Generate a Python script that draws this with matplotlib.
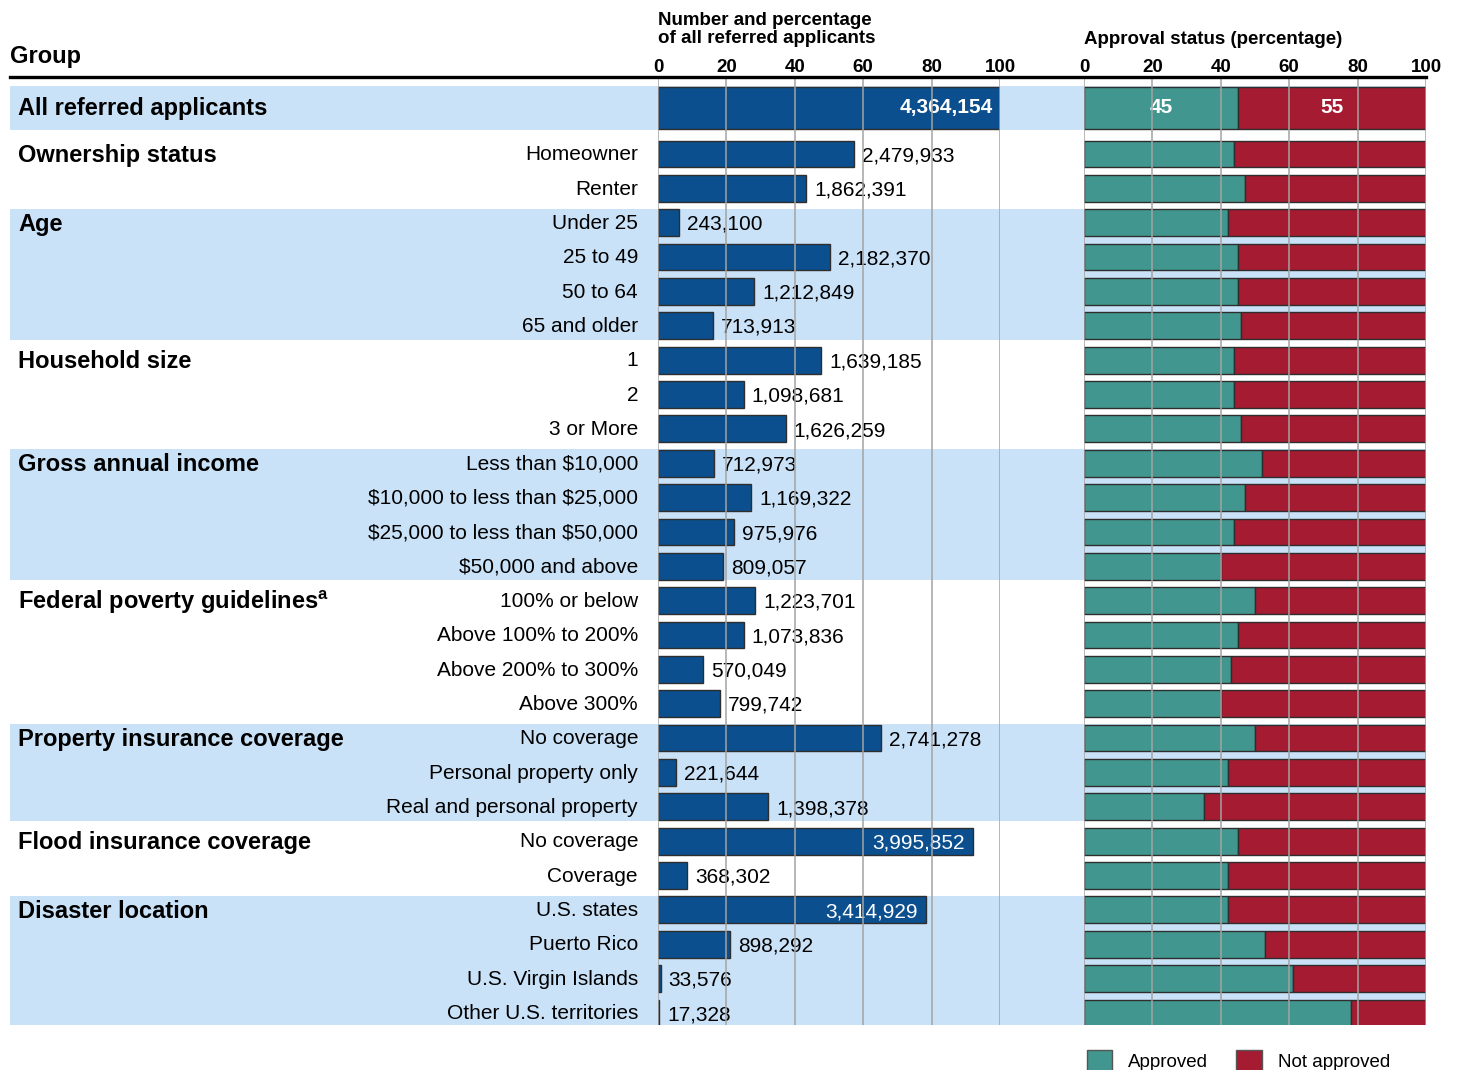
import matplotlib
matplotlib.use("Agg")
import matplotlib.pyplot as plt
import matplotlib.transforms as mtransforms
from matplotlib.lines import Line2D
from matplotlib.patches import Patch

plt.rcParams['font.family'] = ['Liberation Sans', 'DejaVu Sans']
plt.rcParams['mathtext.fontset'] = 'custom'
plt.rcParams['mathtext.bf'] = 'Liberation Sans:bold'

# ---- data ----
total_label = "All referred applicants"
total_count = 4364154
total_share = 100
total_approved = 45

groups = ["Ownership status", "Age", "Household size", "Gross annual income",
          "Federal poverty guidelines$^{\\mathbf{a}}$", "Property insurance coverage",
          "Flood insurance coverage", "Disaster location"]
group_sizes = [2, 4, 3, 4, 4, 3, 2, 4]

categories = ["Homeowner", "Renter",
              "Under 25", "25 to 49", "50 to 64", "65 and older",
              "1", "2", "3 or More",
              "Less than \\$10,000", "\\$10,000 to less than \\$25,000",
              "\\$25,000 to less than \\$50,000", "\\$50,000 and above",
              "100% or below", "Above 100% to 200%", "Above 200% to 300%", "Above 300%",
              "No coverage", "Personal property only", "Real and personal property",
              "No coverage", "Coverage",
              "U.S. states", "Puerto Rico", "U.S. Virgin Islands", "Other U.S. territories"]

counts = [2479933, 1862391,
          243100, 2182370, 1212849, 713913,
          1639185, 1098681, 1626259,
          712973, 1169322, 975976, 809057,
          1223701, 1073836, 570049, 799742,
          2741278, 221644, 1398378,
          3995852, 368302,
          3414929, 898292, 33576, 17328]

# percentage of all referred applicants (bar lengths)
shares = [57.3, 43.3,
          6.1, 50.3, 28.1, 16.1,
          47.7, 25.1, 37.4,
          16.4, 27.2, 22.2, 19.0,
          28.4, 25.1, 13.2, 18.1,
          65.2, 5.3, 32.2,
          92.1, 8.5,
          78.4, 21.1, 0.8, 0.4]

# percent approved
approved = [44, 47,
            42, 45, 45, 46,
            44, 44, 46,
            52, 47, 44, 40,
            50, 45, 43, 40,
            50, 42, 35,
            45, 42,
            42, 53, 61, 78]

ticks = [0, 20, 40, 60, 80, 100]

BLUE = '#0b4f8f'
TEAL = '#41978f'
RED = '#a51b31'
BAND = '#cae2f8'
EDGE = '#2e2e2e'
GRID = '#a3a3a3'

W, H = 1460, 1070
fig = plt.figure(figsize=(W / 100, H / 100), dpi=100)


def box(x0, x1, y0=77, y1=1025):
    return [x0 / W, 1 - y1 / H, (x1 - x0) / W, (y1 - y0) / H]


ylim = (25.35, -2.24)
rows = list(range(len(categories)))
total_y = -1.34
bar_h = 0.78

ax_bg = fig.add_axes(box(10, 1426))
ax_bg.set_xlim(0, 1)
ax_bg.set_ylim(*ylim)
ax_bg.axis('off')

# shaded bands
ax_bg.axhspan(total_y - 0.63, total_y + 0.63, color=BAND, lw=0)
start = 0
for gi, n in enumerate(group_sizes):
    if gi % 2 == 1:
        ax_bg.axhspan(start - 0.41, start + n - 1 + 0.41, color=BAND, lw=0)
    start += n

# row labels
tr = mtransforms.blended_transform_factory(fig.transFigure, ax_bg.transData)
ax_bg.text(18 / W, total_y + 0.02, total_label, transform=tr, ha='left', va='center',
           fontsize=17, fontweight='bold')
start = 0
for gi, n in enumerate(group_sizes):
    ax_bg.text(18 / W, start + 0.05, groups[gi], transform=tr, ha='left', va='center',
               fontsize=17, fontweight='bold')
    start += n
for y, c in zip(rows, categories):
    ax_bg.text(638 / W, y + 0.02, c, transform=tr, ha='right', va='center', fontsize=15)

# ---- middle panel: number and percentage ----
ax1 = fig.add_axes(box(658, 1000))
ax1.barh(total_y, total_share, height=1.22, color=BLUE, edgecolor=EDGE, lw=1, zorder=2)
ax1.text(total_share - 2, total_y, f"{total_count:,}", ha='right', va='center',
         color='white', fontsize=15, fontweight='bold', zorder=3)
ax1.barh(rows, shares, height=bar_h, color=BLUE, edgecolor=EDGE, lw=1, zorder=2)
for y, p, c in zip(rows, shares, counts):
    if p > 70:
        ax1.text(p - 2.5, y + 0.05, f"{c:,}", ha='right', va='center', color='white',
                 fontsize=15, zorder=3)
    else:
        ax1.text(p + 2.3, y + 0.05, f"{c:,}", ha='left', va='center', color='black',
                 fontsize=15, zorder=3)

# ---- right panel: approval status ----
ax2 = fig.add_axes(box(1084, 1426))
ax2.barh(total_y, total_approved, height=1.22, color=TEAL, edgecolor=EDGE, lw=1, zorder=2)
ax2.barh(total_y, 100 - total_approved, left=total_approved, height=1.22, color=RED,
         edgecolor=EDGE, lw=1, zorder=2)
ax2.text(total_approved / 2, total_y, str(total_approved), ha='center', va='center',
         color='white', fontsize=15, fontweight='bold', zorder=3)
ax2.text(total_approved + (100 - total_approved) / 2, total_y, str(100 - total_approved),
         ha='center', va='center', color='white', fontsize=15, fontweight='bold', zorder=3)
not_approved = [100 - a for a in approved]
ax2.barh(rows, approved, height=bar_h, color=TEAL, edgecolor=EDGE, lw=1, zorder=2)
ax2.barh(rows, not_approved, left=approved, height=bar_h, color=RED, edgecolor=EDGE,
         lw=1, zorder=2)

for ax in (ax1, ax2):
    ax.set_xlim(0, 100)
    ax.set_ylim(*ylim)
    ax.patch.set_alpha(0)
    for s in ax.spines.values():
        s.set_visible(False)
    for t in ticks:
        ax.axvline(t, color=GRID, lw=1.1, zorder=5)
    ax.xaxis.tick_top()
    ax.set_xticks(ticks)
    ax.set_xticklabels([str(t) for t in ticks], fontweight='bold', fontsize=13.5)
    ax.tick_params(axis='x', length=0, pad=0.5)
    ax.set_yticks([])

# ---- header ----
fig.add_artist(Line2D([10 / W, 1426 / W], [1 - 77 / H] * 2, lw=2.4, color='black'))
fig.text(10 / W, 1 - 56 / H, "Group", ha='left', va='center', fontsize=17,
         fontweight='bold')
fig.text(658 / W, 1 - 12 / H, "Number and percentage\nof all referred applicants",
         ha='left', va='top', fontsize=13.5, fontweight='bold', linespacing=1.05)
fig.text(1084 / W, 1 - 40 / H, "Approval status (percentage)", ha='left', va='center',
         fontsize=13.5, fontweight='bold')

# ---- legend ----
handles = [Patch(facecolor=TEAL, edgecolor='#555555', label='Approved'),
           Patch(facecolor=RED, edgecolor='#555555', label='Not approved')]
fig.legend(handles=handles, loc='upper left', bbox_to_anchor=(1070 / W, 1 - 1033 / H),
           ncol=2, frameon=False, fontsize=13.5, handlelength=1.35, handleheight=1.45,
           handletextpad=0.85, columnspacing=1.5)

fig.savefig("out.png", dpi=100)
